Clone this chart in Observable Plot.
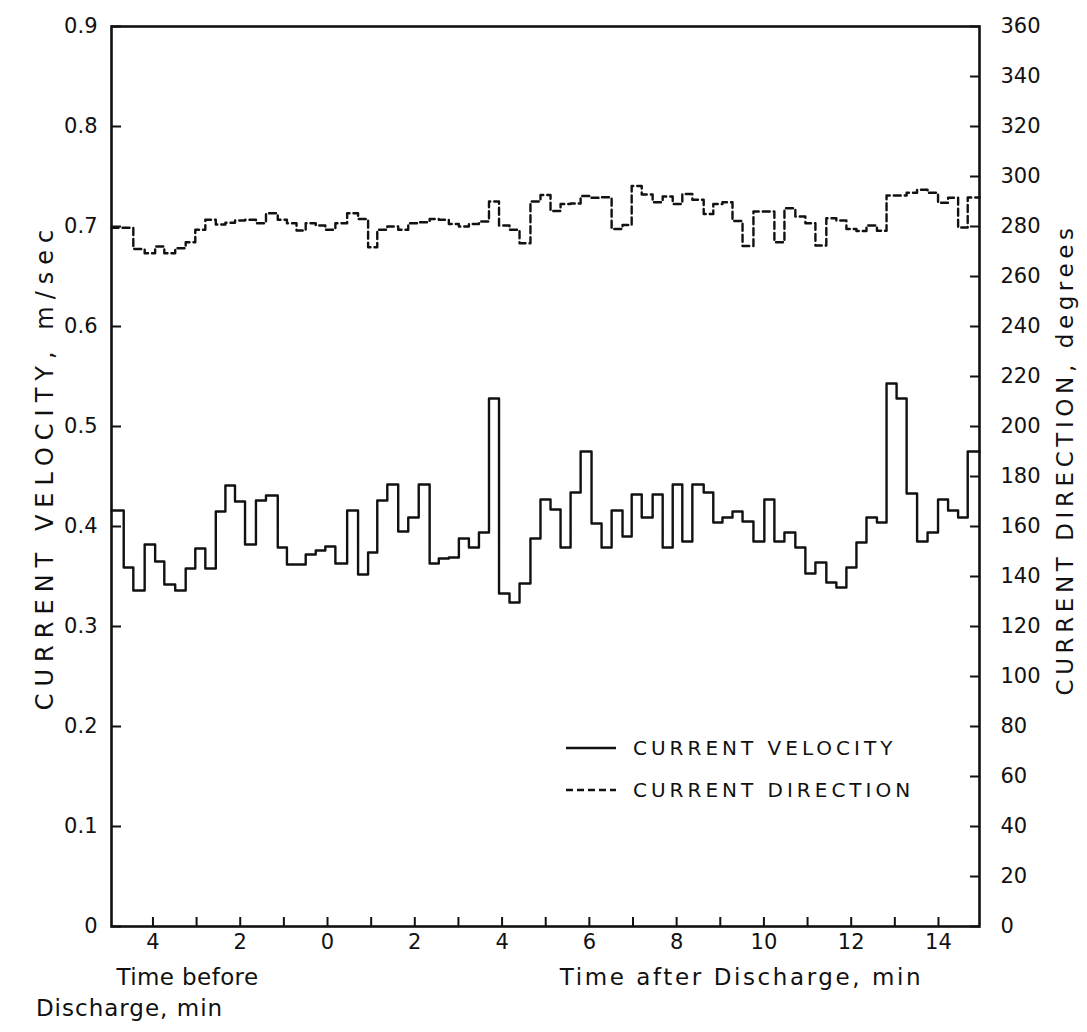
<!DOCTYPE html>
<html>
<head>
<meta charset="utf-8">
<script src="https://cdn.jsdelivr.net/npm/d3@7"></script>
<script src="https://cdn.jsdelivr.net/npm/@observablehq/plot@0.6"></script>
<style>
  html, body { margin: 0; padding: 0; background: #fff; }
  #wrap { position: relative; width: 1087px; height: 1032px; font-family: "DejaVu Sans", sans-serif; color: #111; }
  .legend { position: absolute; left: 566px; top: 727px; }
  .legend-row { display: flex; align-items: center; height: 42px; }
  .legend-row span { margin-left: 17px; font-size: 20px; letter-spacing: 4px; }
</style>
</head>
<body>
<div id="wrap"></div>
<script>
// Step start times, minutes relative to discharge (negative = before discharge)
const stepStart = [
  -4.95, -4.67, -4.45, -4.19, -3.95, -3.74, -3.49, -3.25, -3.03, -2.80,
  -2.56, -2.34, -2.12, -1.89, -1.64, -1.41, -1.14, -0.93, -0.71, -0.50,
  -0.27, -0.05, 0.18, 0.45, 0.70, 0.93, 1.14, 1.37, 1.62, 1.85,
  2.09, 2.34, 2.55, 2.78, 3.01, 3.24, 3.47, 3.70, 3.93, 4.17,
  4.40, 4.65, 4.88, 5.11, 5.34, 5.57, 5.80, 6.05, 6.28, 6.51,
  6.76, 6.97, 7.20, 7.45, 7.68, 7.91, 8.13, 8.36, 8.62, 8.84,
  9.05, 9.28, 9.51, 9.76, 10.01, 10.24, 10.47, 10.72, 10.95, 11.18,
  11.43, 11.66, 11.89, 12.12, 12.35, 12.59, 12.81, 13.04, 13.27, 13.51,
  13.75, 13.99, 14.22, 14.45, 14.67
];
const stepEnd = 14.94;

// Current velocity, m/sec
const velocity = [
  0.416, 0.359, 0.336, 0.382, 0.365, 0.342, 0.336, 0.358, 0.378, 0.358,
  0.415, 0.441, 0.425, 0.382, 0.426, 0.431, 0.379, 0.362, 0.362, 0.372,
  0.376, 0.380, 0.363, 0.416, 0.352, 0.374, 0.426, 0.442, 0.395, 0.409,
  0.442, 0.363, 0.368, 0.369, 0.388, 0.379, 0.394, 0.528, 0.333, 0.324,
  0.343, 0.388, 0.427, 0.417, 0.379, 0.434, 0.475, 0.403, 0.379, 0.416,
  0.390, 0.432, 0.409, 0.432, 0.379, 0.442, 0.385, 0.442, 0.434, 0.404,
  0.409, 0.415, 0.405, 0.385, 0.427, 0.385, 0.394, 0.379, 0.353, 0.364,
  0.344, 0.339, 0.359, 0.384, 0.409, 0.404, 0.543, 0.528, 0.433, 0.385,
  0.394, 0.427, 0.416, 0.409, 0.475
];

// Current direction, degrees
const direction = [
  279.5, 279.5, 271.0, 269.3, 272.0, 269.3, 271.3, 273.7, 278.7, 282.7,
  280.8, 281.5, 282.4, 282.7, 281.3, 285.3, 282.7, 281.3, 278.4, 281.3,
  280.4, 278.7, 281.3, 285.3, 283.0, 271.7, 278.7, 280.0, 278.7, 281.3,
  281.7, 283.0, 282.7, 281.0, 280.0, 281.0, 282.0, 290.0, 280.4, 278.7,
  273.3, 290.0, 292.6, 286.2, 289.0, 289.2, 292.2, 291.5, 291.7, 279.0,
  280.6, 296.2, 292.8, 289.7, 292.0, 289.0, 293.0, 290.7, 285.0, 289.0,
  289.7, 282.2, 272.2, 286.0, 286.0, 273.7, 287.3, 284.0, 281.3, 272.4,
  283.3, 282.4, 279.0, 278.2, 280.4, 278.3, 292.4, 292.4, 293.5, 294.7,
  293.5, 289.5, 291.5, 279.6, 291.6
];

const velocityTicks = [0, 0.1, 0.2, 0.3, 0.4, 0.5, 0.6, 0.7, 0.8, 0.9];
const directionTicks = [0, 20, 40, 60, 80, 100, 120, 140, 160, 180, 200, 220, 240, 260, 280, 300, 320, 340, 360];
const minuteTicks = [-4, -3, -2, -1, 0, 1, 2, 3, 4, 5, 6, 7, 8, 9, 10, 11, 12, 13, 14];
const minuteLabels = [-4, -2, 0, 2, 4, 6, 8, 10, 12, 14];
const legendItems = ["CURRENT VELOCITY", "CURRENT DIRECTION"];

// Secondary axis: 0-360 degrees shares the 0-0.9 m/sec frame
const degToV = d => d * 0.9 / 360;

const velPts = stepStart.map((t, i) => ({t, v: velocity[i]}));
velPts.push({t: stepEnd, v: velocity[velocity.length - 1]});
const dirPts = stepStart.map((t, i) => ({t, v: degToV(direction[i])}));
dirPts.push({t: stepEnd, v: degToV(direction[direction.length - 1])});

const ink = "#111";

const chart = Plot.plot({
  width: 1087,
  height: 1032,
  marginLeft: 111,
  marginRight: 108,
  marginTop: 26,
  marginBottom: 106,
  style: {fontFamily: "DejaVu Sans, sans-serif", fontSize: "21px", color: ink, background: "#fff", overflow: "visible"},
  x: {domain: [-4.95, 14.94]},
  y: {domain: [0, 0.9]},
  marks: [
    Plot.axisY(velocityTicks, {anchor: "left", tickSize: -10, tickPadding: 24, strokeWidth: 2, stroke: ink,
      tickFormat: d => d === 0 ? "0" : d.toFixed(1), label: null, fontSize: 21}),
    Plot.axisY(directionTicks.map(degToV), {anchor: "right", tickSize: -10, tickPadding: 31, strokeWidth: 2, stroke: ink,
      tickFormat: d => String(Math.round(d * 400)), label: null, fontSize: 21}),
    Plot.axisX(minuteTicks, {anchor: "bottom", tickSize: -9, tickPadding: 0, strokeWidth: 2, stroke: ink,
      tickFormat: () => "", label: null}),
    Plot.axisX(minuteLabels, {anchor: "bottom", tickSize: 0, tickPadding: 8,
      tickFormat: d => String(Math.abs(d)), label: null, fontSize: 21}),
    Plot.frame({stroke: ink, strokeWidth: 2.6}),
    Plot.line(dirPts, {x: "t", y: "v", curve: "step-after", stroke: ink, strokeWidth: 2.4, strokeDasharray: "7,4"}),
    Plot.line(velPts, {x: "t", y: "v", curve: "step-after", stroke: ink, strokeWidth: 2.4}),
    Plot.text(["CURRENT VELOCITY, m/sec"], {frameAnchor: "left", textAnchor: "middle", rotate: -90, dx: -66, dy: -10, fontSize: 24, fill: ink}),
    Plot.text(["CURRENT DIRECTION, degrees"], {frameAnchor: "right", textAnchor: "middle", rotate: -90, dx: 86, dy: -17, fontSize: 23, fill: ink}),
    Plot.text(["Time before"], {frameAnchor: "bottom-left", textAnchor: "middle", dx: 76, dy: 58, fontSize: 23, fill: ink}),
    Plot.text(["Discharge, min"], {frameAnchor: "bottom-left", textAnchor: "middle", dx: 18, dy: 89, fontSize: 23, fill: ink}),
    Plot.text(["Time after Discharge, min"], {frameAnchor: "bottom-left", textAnchor: "middle", dx: 630, dy: 58, fontSize: 23, fill: ink})
  ]
});

// letter spacing for the titles
chart.querySelectorAll("text").forEach(t => {
  const s = t.textContent;
  if (s === "CURRENT VELOCITY, m/sec") t.setAttribute("letter-spacing", "7");
  else if (s === "CURRENT DIRECTION, degrees") t.setAttribute("letter-spacing", "4.6");
  else if (s === "Time after Discharge, min") t.setAttribute("letter-spacing", "2.6");
  else if (s === "Time before") t.setAttribute("letter-spacing", "0.4");
  else if (s === "Discharge, min") t.setAttribute("letter-spacing", "1");
});

const wrap = document.getElementById("wrap");
wrap.appendChild(chart);

// legend inside the plot area
const legend = document.createElement("div");
legend.className = "legend";
legendItems.forEach((name, i) => {
  const row = document.createElement("div");
  row.className = "legend-row";
  const dash = i === 0 ? "" : ' stroke-dasharray="7,4"';
  row.innerHTML = `<svg width="50" height="10"><line x1="0" y1="5" x2="50" y2="5" stroke="${ink}" stroke-width="2.4"${dash}/></svg><span>${name}</span>`;
  legend.appendChild(row);
});
wrap.appendChild(legend);
</script>
</body>
</html>
